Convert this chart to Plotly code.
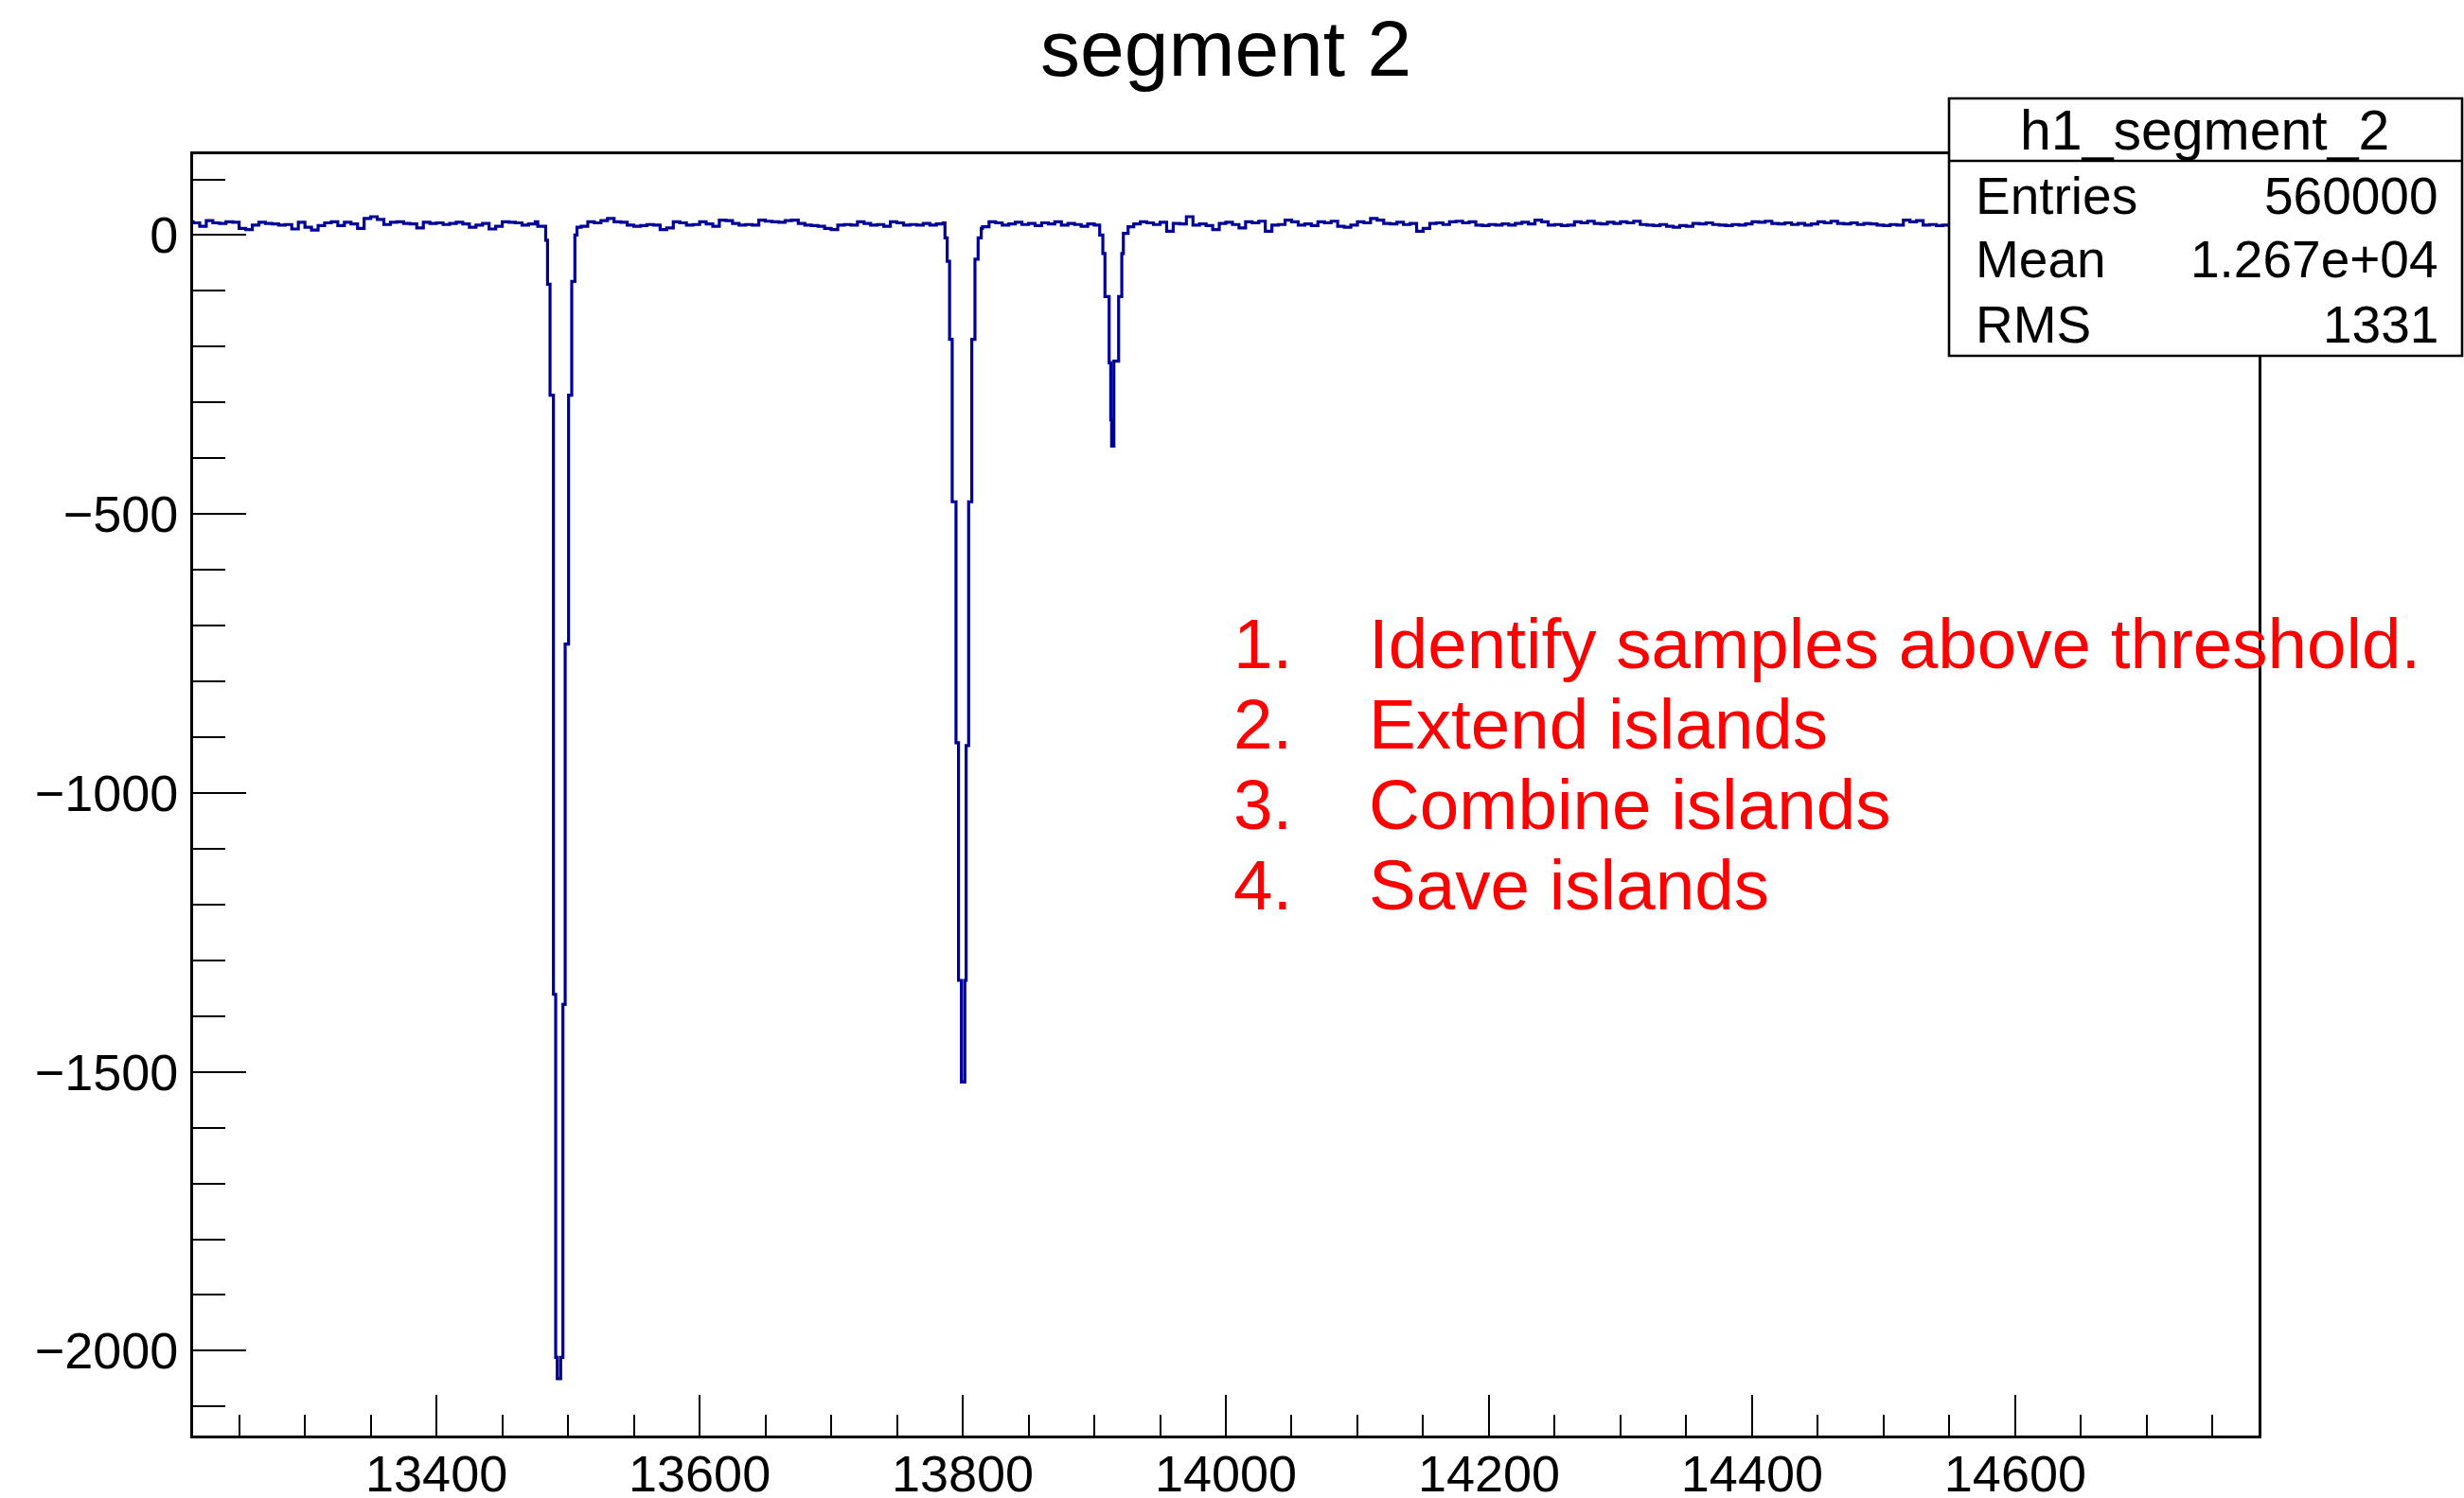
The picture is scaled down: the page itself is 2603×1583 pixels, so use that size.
import plotly.graph_objects as go

FONT = "Liberation Sans, Arial, Helvetica, sans-serif"

# ---------------- data ----------------
BIN = 5  # baseline read-out resolution (x units)
noise_1_start = 13210
noise_1 = [24, 22, 16, 26, 22, 21, 24, 23, 12, 10,
           18, 23, 21, 20, 18, 19, 11, 23, 14, 9,
           17, 22, 24, 17, 23, 20, 12, 30, 33, 28,
           19, 23, 24, 21, 20, 13, 23, 21, 22, 19,
           21, 23, 20, 14, 18, 21, 11, 16, 24, 23,
           22, 18, 20, 24]
noise_2_start = 13510
noise_2 = [16, 24, 22, 26, 30, 24, 23, 18, 16, 17,
           19, 18, 10, 13, 24, 22, 18, 19, 24, 20,
           16, 27, 26, 21, 18, 19, 18, 27, 25, 24,
           23, 26, 27, 21, 18, 17, 16, 12, 10, 18,
           19, 18, 24, 21, 18, 19, 16, 24, 22, 18,
           19, 18, 21, 18, 20, 22]
noise_3_start = 13815
noise_3 = [15, 24, 22, 18, 20, 23, 19, 21, 17, 22,
           20, 24, 18, 21, 19, 16, 20, 18]
noise_4_start = 13930
noise_4 = [20, 24, 22, 19, 23, 7, 21, 20, 33, 18,
           20, 17, 10, 21, 23, 19, 13, 24, 22, 25,
           7, 18, 19, 27, 24, 18, 20, 17, 24, 22,
           25, 16, 14, 18, 24, 22, 30, 27, 21, 20,
           23, 19, 21, 7, 12, 21, 22, 19, 24, 25,
           22, 24, 18, 17, 19, 18, 20, 18, 21, 23,
           20, 27, 24, 18, 19, 17, 18, 24, 22, 25,
           21, 20, 23, 21, 24, 22, 25, 19, 18, 17,
           19, 16, 14, 17, 16, 21, 20, 22, 19, 18,
           17, 19, 18, 20, 24, 23, 25, 21, 20, 22,
           19, 21, 18, 20, 24, 22, 25, 21, 20, 22,
           19, 21, 20, 18, 17, 19, 18, 27, 24, 26,
           18, 19, 17, 18, 20,
           21, 19, 22, 20, 18, 21, 23, 20, 19, 22,
           20, 18, 21, 24, 22, 19, 20, 21, 18, 20,
           22, 23, 19, 20, 21, 18, 19, 22, 20, 21,
           23, 20, 18, 19, 21, 22, 20, 19, 21, 20,
           18, 22, 21, 20, 19, 21, 20]
x_end = 14790

peak1_edges = [13477, 13483, 13484.4, 13486.3, 13488.9, 13490.6, 13491.8,
               13494.4, 13496.1, 13497.8, 13500.4, 13502.8, 13505.2, 13506.8]
peak1_vals = [16, -9, -88, -287, -1361, -2012, -2050,
              -2012, -1379, -733, -287, -83, 0, 14]
peak2_edges = [13786.5, 13788.2, 13790, 13792, 13794.9, 13796.8, 13799.0,
               13801.6, 13802.6, 13804.5, 13806.9, 13809.3, 13811.7, 13814.1]
peak2_vals = [-5, -47, -187, -478, -910, -1336, -1518,
              -1336, -915, -478, -187, -43, -5, 12]
peak3_edges = [13904.1, 13906.5, 13908.1, 13911.3, 13912.5, 13913.2,
               13914.9, 13918.5, 13920.9, 13922.1, 13925.7]
peak3_vals = [0, -33, -110, -229, -331, -378,
              -226, -110, -33, 3, 15]

x_ticks = [13400, 13600, 13800, 14000, 14200, 14400, 14600]
y_ticks = [0, -500, -1000, -1500, -2000]
y_tick_text = ["0", "\u2212500", "\u22121000", "\u22121500", "\u22122000"]

title_text = "segment 2"
stats_title = "h1_segment_2"
stats_names = ["Entries", "Mean", "RMS"]
stats_values = ["560000", "1.267e+04", "1331"]
steps_num = ["1.", "2.", "3.", "4."]
steps_text = ["Identify samples above threshold.", "Extend islands",
              "Combine islands", "Save islands"]

# ---------------- build step curve ----------------
segs = []
for start, vals in [(noise_1_start, noise_1), (noise_2_start, noise_2),
                    (noise_3_start, noise_3), (noise_4_start, noise_4)]:
    segs += [(start + BIN * i, v) for i, v in enumerate(vals)]
for e, v in [(peak1_edges, peak1_vals), (peak2_edges, peak2_vals),
             (peak3_edges, peak3_vals)]:
    segs += list(zip(e, v))
segs.sort()
xs = [s[0] for s in segs] + [x_end]
ys = [s[1] for s in segs] + [segs[-1][1]]

fig = go.Figure()
fig.add_trace(go.Scatter(x=xs, y=ys, mode="lines", line_shape="hv",
                         line=dict(color="#000099", width=3.2),
                         hoverinfo="skip", showlegend=False))

W, H = 2603, 1583
L, R, T, B = 204, 2386, 163, 1517


def px(fx):
    return (fx - L) / (R - L)


def py(fy):
    return (B - fy) / (B - T)


fig.update_layout(
    width=W, height=H,
    margin=dict(l=L, r=W - R, t=T, b=H - B, pad=0),
    paper_bgcolor="white", plot_bgcolor="white",
    font=dict(family=FONT, color="black"),
    showlegend=False,
)

fig.update_xaxes(
    range=[13215, 14785], tickmode="array", tickvals=x_ticks,
    ticktext=[str(v) for v in x_ticks],
    ticks="inside", ticklen=43, tickwidth=1.6, tickcolor="black",
    minor=dict(dtick=50, tick0=13400, ticks="inside", ticklen=22,
               tickwidth=1.6, tickcolor="black"),
    showline=True, linecolor="black", linewidth=2.6, mirror=True,
    showgrid=False, zeroline=False, automargin=False,
    tickfont=dict(size=54, family=FONT, color="black"),
    ticklabelstandoff=-9,
)
fig.update_yaxes(
    range=[-2152, 145], tickmode="array", tickvals=y_ticks,
    ticktext=y_tick_text,
    ticks="inside", ticklen=56, tickwidth=1.6, tickcolor="black",
    minor=dict(dtick=100, tick0=0, ticks="inside", ticklen=34,
               tickwidth=1.6, tickcolor="black"),
    showline=True, linecolor="black", linewidth=2.6, mirror=True,
    showgrid=False, zeroline=False, automargin=False,
    tickfont=dict(size=54, family=FONT, color="black"),
    ticklabelstandoff=2,
)

# title
fig.add_annotation(text=title_text, xref="paper", yref="paper",
                   x=0.5, y=py(51), xanchor="center", yanchor="middle",
                   showarrow=False, font=dict(size=84, family=FONT, color="black"))

# stats box
fig.add_shape(type="rect", xref="paper", yref="paper",
              x0=px(2059), x1=px(2601), y0=py(376), y1=py(104),
              fillcolor="white", line=dict(color="black", width=2.6), layer="above")
fig.add_shape(type="line", xref="paper", yref="paper",
              x0=px(2059), x1=px(2601), y0=py(170), y1=py(170),
              line=dict(color="black", width=2.6), layer="above")
fig.add_annotation(text=stats_title, xref="paper", yref="paper",
                   x=px(2329), y=py(138), xanchor="center", yanchor="middle",
                   showarrow=False, font=dict(size=59, family=FONT, color="black"))
row_y = [207, 274, 343]
for name, val, yy in zip(stats_names, stats_values, row_y):
    fig.add_annotation(text=name, xref="paper", yref="paper",
                       x=px(2085), y=py(yy), xanchor="left", yanchor="middle",
                       showarrow=False, font=dict(size=55, family=FONT, color="black"))
    fig.add_annotation(text=val, xref="paper", yref="paper",
                       x=px(2578), y=py(yy), xanchor="right", yanchor="middle",
                       showarrow=False, font=dict(size=55, family=FONT, color="black"))

# red list
line_y = [680, 765, 850, 935]
for n, t, yy in zip(steps_num, steps_text, line_y):
    fig.add_annotation(text=n, xref="paper", yref="paper",
                       x=px(1301), y=py(yy), xanchor="left", yanchor="middle",
                       showarrow=False, font=dict(size=74.6, family=FONT, color="#ff0000"))
    fig.add_annotation(text=t, xref="paper", yref="paper",
                       x=px(1444), y=py(yy), xanchor="left", yanchor="middle",
                       showarrow=False, font=dict(size=74.6, family=FONT, color="#ff0000"))

fig.write_html("out.html",
               config={"displayModeBar": False},
               post_script="document.body.style.margin='0';"
                           "document.body.style.overflow='hidden';")
